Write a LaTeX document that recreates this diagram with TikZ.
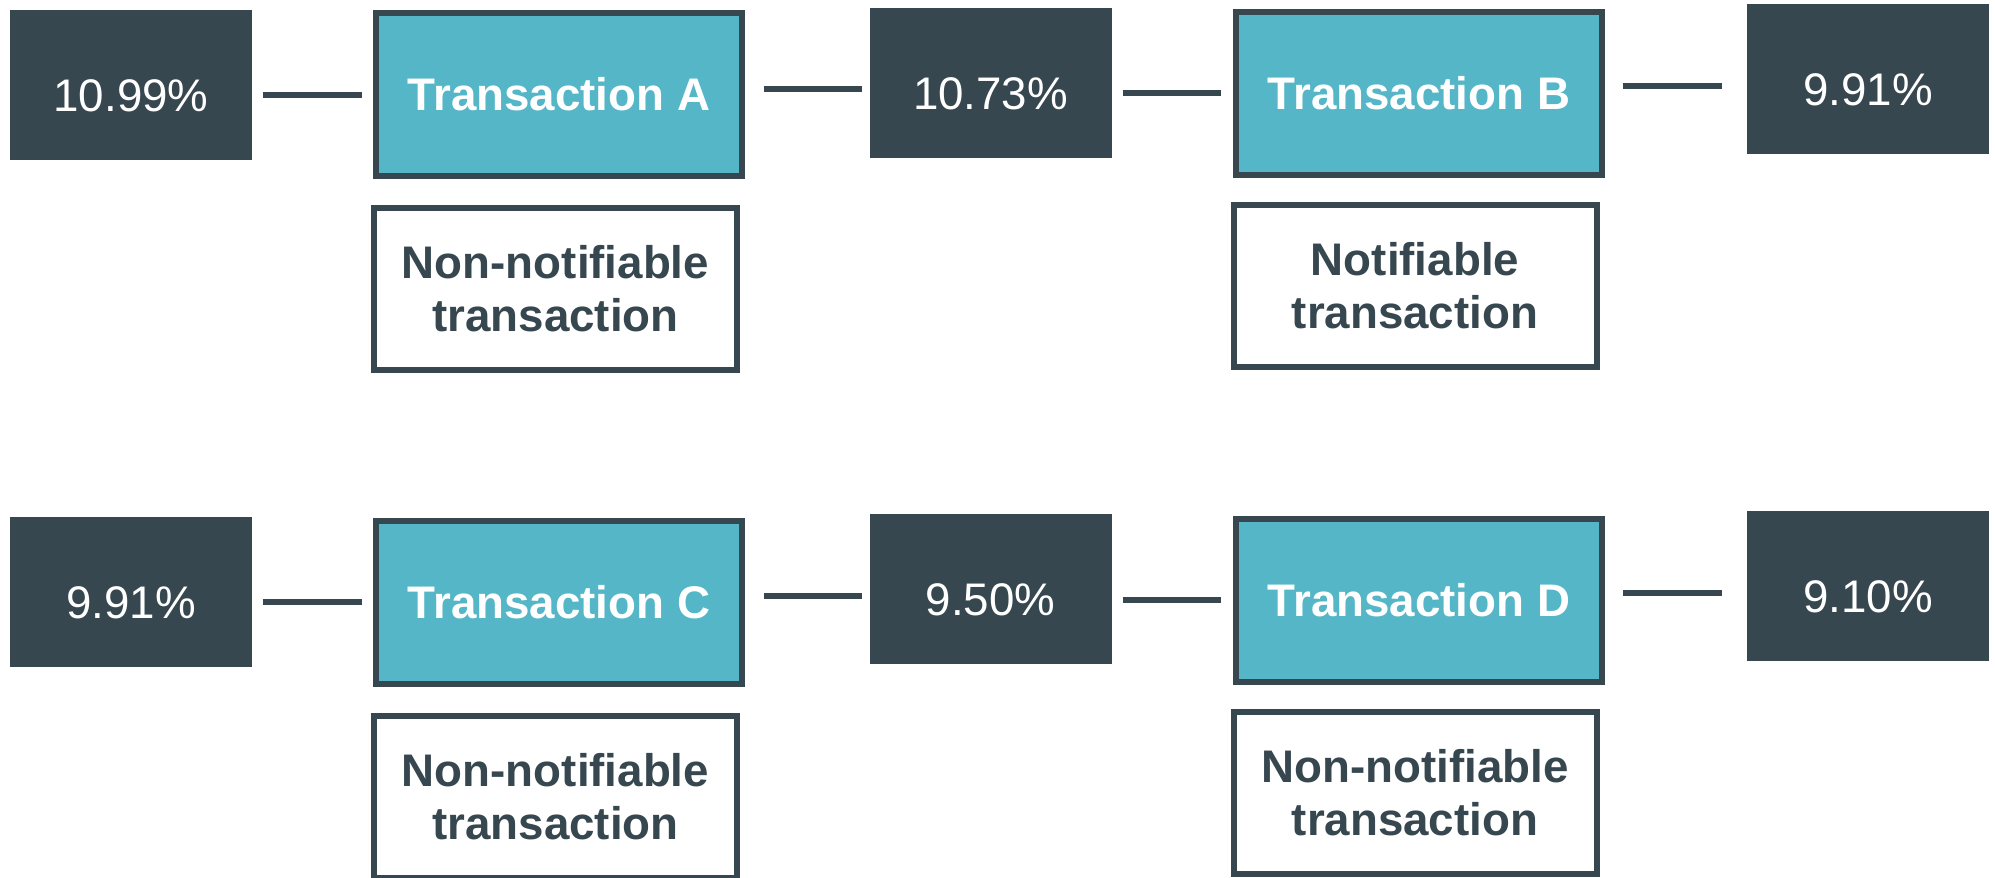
\documentclass[tikz,border=0pt]{standalone}
\usepackage{fontspec}
\setmainfont{Liberation Sans}
\usepackage{xcolor}
\usetikzlibrary{calc}

\definecolor{slate}{RGB}{55,71,79}
\definecolor{aqua}{RGB}{84,182,198}

\tikzset{
    share/.style={fill=slate, text=white, inner sep=0pt,
        minimum width=2.42cm, minimum height=1.5cm,
        text height=15pt, text depth=0pt,
        font=\fontsize{13}{15}\selectfont},
    trans/.style={draw=slate, line width=0.06cm, fill=aqua, text=white, inner sep=0pt,
        minimum width=3.66cm, minimum height=1.63cm,
        font=\fontsize{13}{15}\selectfont\bfseries},
    kind/.style={draw=slate, line width=0.06cm, fill=white, text=slate, inner sep=0pt,
        minimum width=3.63cm, minimum height=1.62cm, align=center,
        font=\fontsize{13}{15}\selectfont\bfseries},
    link/.style={draw=slate, line width=0.06cm},
}

\begin{document}
\begin{tikzpicture}
                    \fill[white] (0,0) rectangle (19.95,-8.77);
                    \useasboundingbox (0,0) rectangle (19.95,-8.77);

                    % first chain
                    \node[share] (Share1) at (1.31,-0.85) {10.99\%};
                    \node[trans] (TransA) at (5.59,-0.945) {Transaction A};
                    \node[share] (Share2) at (9.905,-0.83) {10.73\%};
                    \node[trans] (TransB) at (14.19,-0.93) {Transaction B};
                    \node[share] (Share3) at (18.68,-0.79) {9.91\%};

                    \node[kind] (KindA) at (5.555,-2.885) {Non-notifiable\\transaction};
                    \node[kind] (KindB) at (14.15,-2.855) {Notifiable\\transaction};

                    % second chain
                    \node[share] (Share4) at (1.31,-5.92) {9.91\%};
                    \node[trans] (TransC) at (5.59,-6.02) {Transaction C};
                    \node[share] (Share5) at (9.905,-5.89) {9.50\%};
                    \node[trans] (TransD) at (14.19,-6.00) {Transaction D};
                    \node[share] (Share6) at (18.68,-5.86) {9.10\%};

                    \node[kind] (KindC) at (5.555,-7.97) {Non-notifiable\\transaction};
                    \node[kind] (KindD) at (14.15,-7.93) {Non-notifiable\\transaction};

                    % links between the boxes
                    \draw[link, shorten <=1mm, shorten >=1.1mm] (Share1.east |- TransA.west) -- (TransA.west);
                    \draw[link, shorten <=1.9mm, shorten >=0.65mm] let \p1=(TransA.east), \p2=(Share2.west) in
                        (\x1,{(\y1+\y2)/2}) -- (\x2,{(\y1+\y2)/2});
                    \draw[link, shorten <=1.05mm, shorten >=1.2mm] (Share2.east |- TransB.west) -- (TransB.west);
                    \draw[link, shorten <=1.8mm, shorten >=2.4mm] let \p1=(TransB.east), \p2=(Share3.west) in
                        (\x1,{(\y1+\y2)/2}) -- (\x2,{(\y1+\y2)/2});

                    \draw[link, shorten <=1mm, shorten >=1.1mm] (Share4.east |- TransC.west) -- (TransC.west);
                    \draw[link, shorten <=1.9mm, shorten >=0.65mm] let \p1=(TransC.east), \p2=(Share5.west) in
                        (\x1,{(\y1+\y2)/2}) -- (\x2,{(\y1+\y2)/2});
                    \draw[link, shorten <=1.05mm, shorten >=1.2mm] (Share5.east |- TransD.west) -- (TransD.west);
                    \draw[link, shorten <=1.8mm, shorten >=2.4mm] let \p1=(TransD.east), \p2=(Share6.west) in
                        (\x1,{(\y1+\y2)/2}) -- (\x2,{(\y1+\y2)/2});
\end{tikzpicture}
\end{document}
